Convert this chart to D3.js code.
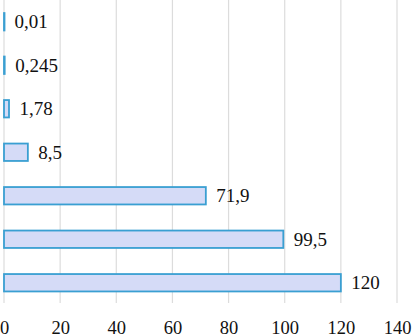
<!DOCTYPE html>
<html>
<head>
<meta charset="utf-8">
<script src="https://cdn.jsdelivr.net/npm/d3@7"></script>
<style>
  body { margin: 0; background: #fff; }
  svg text { font-family: "Liberation Serif", "Times New Roman", serif; fill: #111; }
</style>
</head>
<body>
<svg id="chart" width="413" height="334"></svg>
<script>
const categories = ["a", "b", "c", "d", "e", "f", "g"];
const values = [0.01, 0.245, 1.78, 8.5, 71.9, 99.5, 120];
const labels = ["0,01", "0,245", "1,78", "8,5", "71,9", "99,5", "120"];
const ticks = [0, 20, 40, 60, 80, 100, 120, 140];

const svg = d3.select("#chart");

const x = d3.scaleLinear().domain([0, 140]).range([4, 397]);
const y = d3.scaleBand()
    .domain(categories)
    .range([0, 304.5])
    .paddingInner(0.6)
    .paddingOuter(0.3);

// gridlines
svg.append("g")
    .selectAll("line")
    .data(ticks)
    .enter().append("line")
    .attr("x1", d => x(d)).attr("x2", d => x(d))
    .attr("y1", 0).attr("y2", 303)
    .style("stroke", "#dcdcdc")
    .style("stroke-width", 1.2);

// bars
const data = categories.map((c, i) => ({ c, v: values[i], label: labels[i] }));

svg.append("g")
    .selectAll("rect")
    .data(data)
    .enter().append("rect")
    .attr("x", x(0))
    .attr("y", d => y(d.c))
    .attr("width", d => Math.max(x(d.v) - x(0), 0.5))
    .attr("height", y.bandwidth())
    .style("fill", "#d5dbf7")
    .style("stroke", "#3a9fd2")
    .style("stroke-width", 1.8);

// value labels
svg.append("g")
    .selectAll("text")
    .data(data)
    .enter().append("text")
    .attr("x", d => x(d.v) + 10.5)
    .attr("y", d => y(d.c) + y.bandwidth() / 2)
    .attr("dy", "0.35em")
    .style("font-size", "19px")
    .text(d => d.label);

// x axis
const axis = svg.append("g")
    .attr("transform", "translate(0,303)")
    .call(d3.axisBottom(x).tickValues(ticks).tickSize(0).tickPadding(18));
axis.select(".domain").remove();
axis.selectAll("text")
    .style("font-size", "18.5px")
    .style("font-family", "Liberation Serif, serif")
    .style("fill", "#111");
</script>
</body>
</html>
